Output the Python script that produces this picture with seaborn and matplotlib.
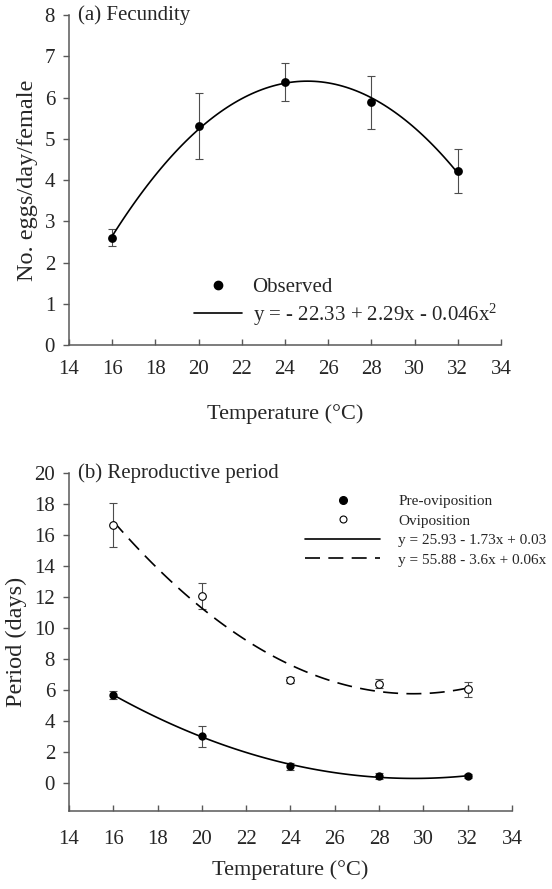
import seaborn as sns
import matplotlib.pyplot as plt
import numpy as np
from matplotlib.lines import Line2D

# data
temps = [16, 20, 24, 28, 32]

fecundity = [2.60, 5.30, 6.38, 5.88, 4.22]
fecundity_err = [0.21, 0.80, 0.46, 0.64, 0.53]

preovi = [5.67, 3.02, 1.08, 0.45, 0.43]
preovi_err = [0.28, 0.68, 0.23, 0.20, 0.15]

ovi = [16.66, 12.09, 6.64, 6.40, 6.04]
ovi_err = [1.40, 0.85, 0.20, 0.30, 0.48]

x_ticks = np.arange(14, 35, 2)

sns.set_theme(style="ticks")
plt.rcParams['font.family'] = ['Liberation Serif', 'DejaVu Serif']
plt.rcParams['mathtext.fontset'] = 'custom'
plt.rcParams['mathtext.rm'] = 'Liberation Serif'
plt.rcParams['mathtext.it'] = 'Liberation Serif:italic'

axis_col = '0.35'
dash = (0, (9, 5))

fig = plt.figure(figsize=(5.52, 8.89), dpi=100)
ax1 = fig.add_axes([0.125, 0.6119, 0.7826, 0.3712])
ax2 = fig.add_axes([0.125, 0.0881, 0.8025, 0.3795])


def style_axes(ax, xpad, labelpad):
    sns.despine(ax=ax)
    for side in ['bottom', 'left']:
        ax.spines[side].set_linewidth(1.1)
        ax.spines[side].set_color(axis_col)
    ax.tick_params(axis='x', direction='in', length=4, width=1, color=axis_col,
                   labelsize=15, pad=xpad)
    ax.tick_params(axis='y', direction='out', length=4, width=1, color=axis_col,
                   labelsize=15, pad=6)
    ax.set_xticks(x_ticks)
    ax.set_xlim(14, 34)
    ax.set_xlabel('Temperature (°C)', fontsize=16, labelpad=labelpad)


# (a) Fecundity
ax1.errorbar(temps, fecundity, yerr=fecundity_err, fmt='none', ecolor='0.3',
             elinewidth=0.8, capsize=3, capthick=0.8, zorder=2)
sns.regplot(x=temps, y=fecundity, order=2, ci=None, scatter=False, ax=ax1,
            line_kws=dict(color='black', lw=1.2, zorder=3))
sns.scatterplot(x=temps, y=fecundity, ax=ax1, color='black', s=40,
                edgecolor='black', linewidth=0, zorder=4)
ax1.set_ylim(0, 8)
ax1.set_yticks(range(0, 9))
style_axes(ax1, xpad=11, labelpad=18)
ax1.set_ylabel('No. eggs/day/female', fontsize=17.5, labelpad=5)
ax1.text(0.02, 1.0, '(a) Fecundity', transform=ax1.transAxes, fontsize=15,
         va='center', ha='left')

h_a = [Line2D([], [], ls='none', marker='o', color='black', markersize=6),
       Line2D([], [], color='black', lw=1.2)]
ax1.legend(h_a, ['Observed', 'y = - 22.33 + 2.29x - 0.046x$^2$'],
           loc='center left', bbox_to_anchor=(0.29, 0.128), frameon=False,
           fontsize=15, handlelength=2.3, handletextpad=0.5, labelspacing=0.2,
           borderpad=0, borderaxespad=0)

# (b) Reproductive period
ax2.errorbar(temps, ovi, yerr=ovi_err, fmt='none', ecolor='0.3',
             elinewidth=0.8, capsize=3, capthick=0.8, zorder=2)
ax2.errorbar(temps, preovi, yerr=preovi_err, fmt='none', ecolor='0.3',
             elinewidth=0.8, capsize=3, capthick=0.8, zorder=2)
sns.regplot(x=temps, y=preovi, order=2, ci=None, scatter=False, ax=ax2,
            line_kws=dict(color='black', lw=1.2, zorder=3))
sns.regplot(x=temps, y=ovi, order=2, ci=None, scatter=False, ax=ax2,
            line_kws=dict(color='black', lw=1.2, ls=dash, zorder=3))
sns.scatterplot(x=temps, y=preovi, ax=ax2, color='black', s=36,
                edgecolor='black', linewidth=0, zorder=4)
sns.scatterplot(x=temps, y=ovi, ax=ax2, color='white', s=30,
                edgecolor='black', linewidth=0.8, zorder=4)
ax2.set_ylim(-1.8, 20)
ax2.set_yticks(range(0, 21, 2))
style_axes(ax2, xpad=14, labelpad=8)
ax2.set_ylabel('Period (days)', fontsize=17.5, labelpad=5)
ax2.text(0.02, 1.0, '(b) Reproductive period', transform=ax2.transAxes,
         fontsize=15, va='center', ha='left')

# equations as far as they show in the reference (cut at the right edge)
h_b = [Line2D([], [], ls='none', marker='o', color='black', markersize=5.5),
       Line2D([], [], ls='none', marker='o', markerfacecolor='white',
              markeredgecolor='black', markeredgewidth=0.8, markersize=5),
       Line2D([], [], color='black', lw=1.2),
       Line2D([], [], color='black', lw=1.2, ls=dash)]
ax2.legend(h_b, ['Pre-oviposition', 'Oviposition',
                 'y = 25.93 - 1.73x + 0.03',
                 'y = 55.88 - 3.6x + 0.06x'],
           loc='center left', bbox_to_anchor=(0.533, 0.83), frameon=False,
           fontsize=11, handlelength=4.9, handletextpad=1.2, labelspacing=0.38,
           borderpad=0, borderaxespad=0)

plt.savefig('out.png', dpi=100)
